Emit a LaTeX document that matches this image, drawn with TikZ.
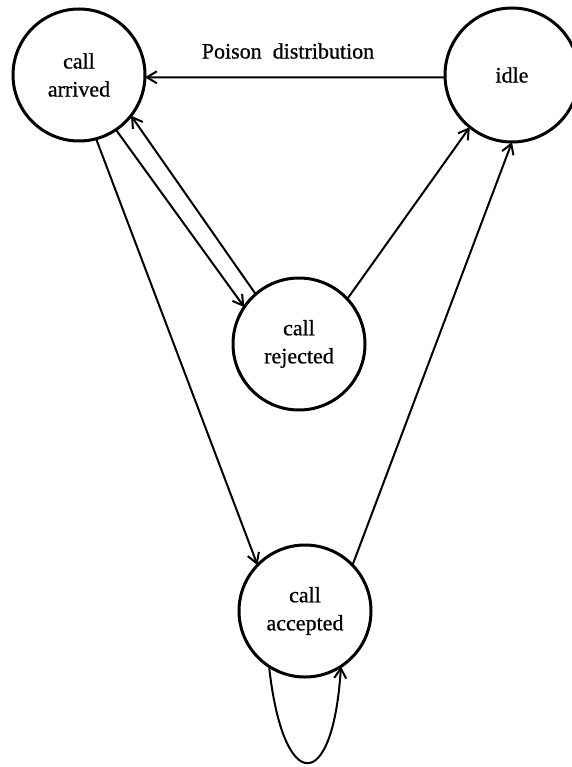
\documentclass[tikz,border=0pt]{standalone}
\usepackage{fontspec}
\setmainfont{Liberation Serif}[BoldFont={Liberation Serif},BoldFeatures={FakeBold=0.7}]
\usetikzlibrary{arrows.meta}
\tikzset{
  state/.style={circle, draw, line width=3pt, inner sep=0pt, outer sep=0pt,
    align=center, font=\fontsize{22}{28}\selectfont\bfseries},
  conn/.style={line width=2pt, -{Straight Barb[length=10pt,width=12pt,line width=2pt]}},
  lbl/.style={font=\fontsize{22}{26}\selectfont\bfseries}
}
\begin{document}
\begin{tikzpicture}[x=1pt,y=-1pt]
\useasboundingbox (0,0) rectangle (571,767);
\node[state, minimum size=132pt] (A) at (79,75) {call\\arrived};
\node[state, minimum size=134pt] (I) at (512,75) {idle};
\node[state, minimum size=132pt] (R) at (299,344) {call\\rejected};
\node[state, minimum size=132pt] (C) at (305,611) {call\\accepted};
\node[lbl] (L) at (288,51) {Poison\ \ distribution};

\draw[conn] (I.182) -- (A.-2);
\draw[conn] (A.-56) -- (R.146);
\draw[conn] (R.131) -- (A.-38);
\draw[conn] (A.-75) -- (C.136);
\draw[conn] (R.43) -- (I.-129);
\draw[conn] (C.44) -- (I.-90);
\draw[conn] (C.-123) .. controls (283,795) and (333,795) .. (C.-57);
\end{tikzpicture}
\end{document}
